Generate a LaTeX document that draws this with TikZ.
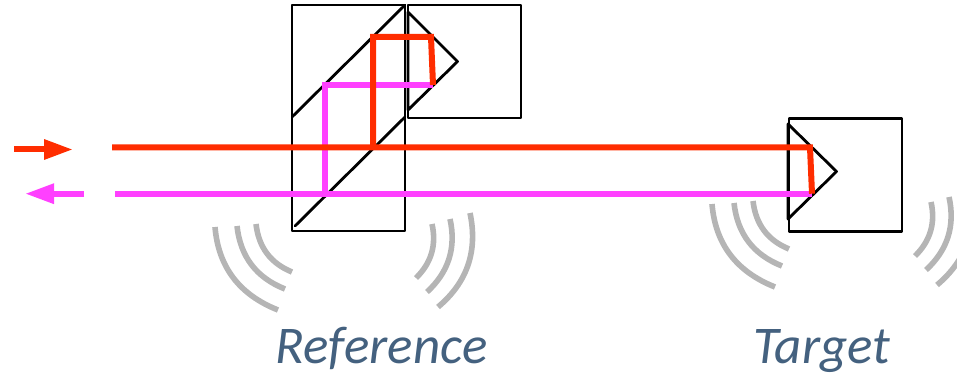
\documentclass[tikz,border=0pt]{standalone}
\usepackage{fontspec}
\setmainfont{Carlito}
\usetikzlibrary{arrows.meta,calc}
\definecolor{beamred}{HTML}{FF2D00}
\definecolor{beammag}{HTML}{FF40FF}
\definecolor{arcgray}{HTML}{B5B5B5}
\definecolor{labelblue}{HTML}{44617F}
\tikzset{
  optic/.style={draw=black,line width=2.8pt,line join=round,line cap=round},
  redbeam/.style={draw=beamred,line width=6pt,line join=miter},
  magbeam/.style={draw=beammag,line width=6pt,line join=miter},
  redarrow/.style={draw=beamred,line width=6pt,-{Triangle[length=29pt,width=19pt]}},
  magarrow/.style={draw=beammag,line width=6pt,-{Triangle[length=29pt,width=19pt]}},
  wave/.style={draw=arcgray,line width=5.6pt},
  caption/.style={text=labelblue,font=\fontsize{53pt}{53pt}\selectfont\itshape,anchor=base,inner sep=0pt}
}
\newcommand{\qarc}[3]{\draw[wave] (#1) .. controls ($(#1)!.667!(#2)$) and ($(#3)!.667!(#2)$) .. (#3);}
\newcommand{\leftwaves}{%
  \qarc{215,227}{220,287}{278,310}
  \qarc{237,226}{242,272}{285,289}
  \qarc{256,224}{260,259}{292,272}
}
\newcommand{\rightwaves}{%
  \qarc{432,224}{439,255.5}{416,278}
  \qarc{450,219}{459.5,262}{427,292}
  \qarc{470,213}{482,270}{438,307}
}
\begin{document}
\begin{tikzpicture}[x=1pt,y=-1pt]
\useasboundingbox (0,0) rectangle (957,374);
% reference beam splitter
\draw[optic] (292,5) rectangle (405,231);
\draw[optic] (292,117) -- (405,5);
\draw[optic] (295,226) -- (405,117);
% reference retro-reflector
\draw[optic] (408,5) rectangle (521,118);
\draw[optic] (408,12) -- (457.5,61.5) -- (408,110) -- cycle;
% target retro-reflector
\draw[optic] (789,118.5) rectangle (902,231.5);
\draw[optic] (788,124) -- (836.5,171.5) -- (788,219) -- cycle;
% waves (the last one runs off the right edge, clipped there)
\begin{scope}
\clip (0,0) rectangle (957,374);
\leftwaves
\rightwaves
\begin{scope}[shift={(497,-23)}]\leftwaves\end{scope}
\begin{scope}[shift={(499,-22)}]\rightwaves\end{scope}
\end{scope}
% coordinates of beams
\coordinate (rs) at (112,147.5);
\coordinate (rb) at (373,147.5);
\coordinate (rt) at (373,37);
\coordinate (rc) at (431,37);
\coordinate (rd) at (433,85);
\coordinate (tr) at (810,147.5);
\coordinate (tm) at (812,193.7);
\coordinate (ms) at (115,193.7);
\coordinate (mb) at (325,193.7);
\coordinate (mt) at (325,85);
% beams
\draw[magbeam] (ms) -- (tm);
\draw[magbeam] (mb) -- (mt) -- (rd);
\draw[redbeam] (rs) -- (tr) -- (tm);
\draw[redbeam] (rb) -- (rt) -- (rc) -- (rd);
% small arrows
\coordinate (ra1) at (14,149.5);
\coordinate (ra2) at (73,149.5);
\coordinate (ma1) at (84,193.7);
\coordinate (ma2) at (25,193.7);
\draw[redarrow] (ra1) -- (ra2);
\draw[magarrow] (ma1) -- (ma2);
% labels
\node[caption] (reflabel) at (381.5,363) {Reference};
\node[caption] (tarlabel) at (822,363) {Target};
\end{tikzpicture}
\end{document}
